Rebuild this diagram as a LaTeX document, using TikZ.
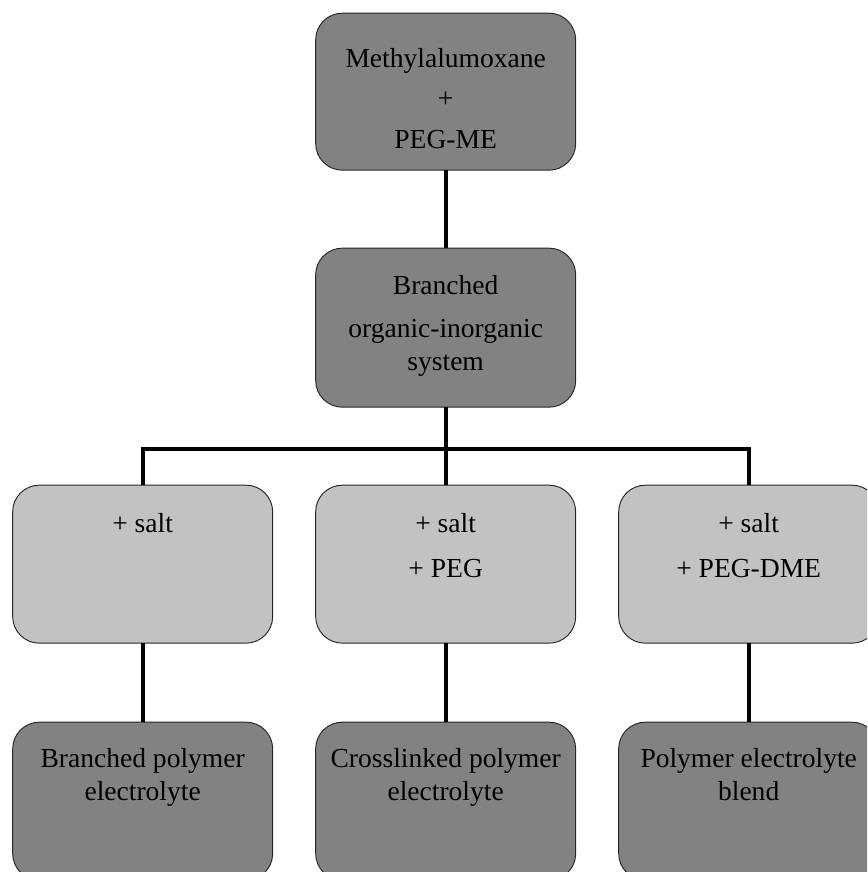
\documentclass[tikz,border=0pt]{standalone}
\usepackage{fontspec}
\setmainfont{Liberation Serif}
\usetikzlibrary{positioning}

\definecolor{boxdark}{RGB}{130,130,130}
\definecolor{boxlight}{RGB}{194,194,194}

% height, baselineskip, first baseline, lines
\newcommand{\boxtext}[4]{\parbox[c][#1][t]{7.8cm}{\centering\fontsize{23.5}{#2}\selectfont\rule{0pt}{#3}#4}}

\begin{document}
\begin{tikzpicture}[node distance=2.34cm and 1.29cm]
		 \tikzstyle{box} = [draw=black!85, line width=0.8pt, rounded corners=0.8cm, inner sep=0pt, outer sep=0pt];
		 \tikzstyle{dark} = [box, fill=boxdark];
		 \tikzstyle{light} = [box, fill=boxlight];
		 \tikzstyle{link} = [line width=3.4pt, black];

		 \clip (0,0) rectangle (26.01,-26.16);
		 \fill [white] (0,0) rectangle (26.01,-26.16);

		 \node [dark]  (mao)      at (13.37,-2.75)          {\boxtext{4.71cm}{34.6pt}{46pt}{Methylalumoxane\\+\\PEG-ME}};
		 \node [dark]  (branched) [below = of mao]          {\boxtext{4.77cm}{28.2pt}{39.3pt}{Branched\\[8.5pt]organic-inorganic\\system}};
		 \node [light] (saltpeg)  [below = of branched]     {\boxtext{4.74cm}{38.4pt}{40.1pt}{+ salt\\+ PEG}};
		 \node [light] (salt)     [left = of saltpeg]       {\boxtext{4.74cm}{38.4pt}{40.1pt}{+ salt}};
		 \node [light] (saltdme)  [right = of saltpeg]      {\boxtext{4.74cm}{38.4pt}{40.1pt}{+ salt\\+ PEG-DME}};
		 \node [dark]  (bpe)      [below = 2.37cm of salt]    {\boxtext{4.74cm}{28.2pt}{38.4pt}{Branched polymer\\electrolyte}};
		 \node [dark]  (cpe)      [below = 2.37cm of saltpeg] {\boxtext{4.74cm}{28.2pt}{38.4pt}{Crosslinked polymer\\electrolyte}};
		 \node [dark]  (peb)      [below = 2.37cm of saltdme] {\boxtext{4.74cm}{28.2pt}{38.4pt}{Polymer electrolyte\\blend}};

		 \coordinate [below = 1.26cm of branched] (split);

 		\path [link] (mao) edge (branched)
         		     (branched) edge (split)
         		     (split) edge (saltpeg)
         		     (salt) edge (bpe)
         		     (saltpeg) edge (cpe)
         		     (saltdme) edge (peb);
 		\draw [link] (salt) |- (split) -| (saltdme);
	\end{tikzpicture}
\end{document}
